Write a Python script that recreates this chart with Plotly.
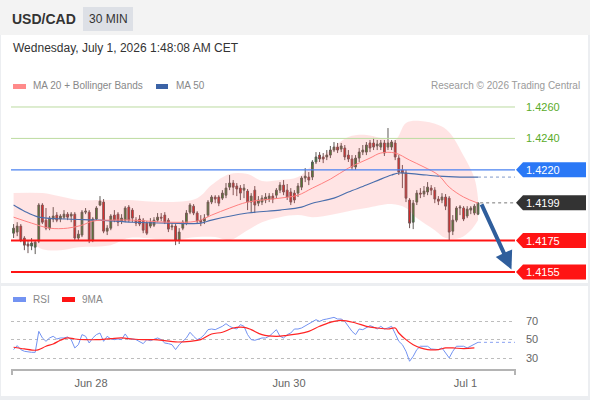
import plotly.graph_objects as go

W, H = 590, 400

# ---------------- data ----------------
bar_index = list(range(130))

open_ = [1.41797,1.41804,1.41842,1.41766,1.41728,1.41715,1.41708,1.41747,1.41976,1.41880,
         1.41829,1.41887,1.41912,1.41887,1.41899,1.41918,1.41906,1.41918,1.41766,1.41785,
         1.41931,1.41931,1.41753,1.41887,1.41976,1.41995,1.41810,1.41829,1.41912,1.41918,
         1.41874,1.41880,1.41963,1.41944,1.41880,1.41887,1.41880,1.41861,1.41842,1.41848,
         1.41880,1.41899,1.41912,1.41880,1.41836,1.41842,1.41753,1.41829,1.41861,1.41931,
         1.41969,1.41925,1.41880,1.41874,1.41912,1.41995,1.42027,1.42027,1.42020,1.42039,
         1.42090,1.42116,1.42097,1.42084,1.42071,1.42065,1.41995,1.42071,1.41988,1.41995,
         1.42008,1.42014,1.42033,1.42039,1.42071,1.42103,1.42071,1.42059,1.42052,1.42052,
         1.42090,1.42148,1.42154,1.42154,1.42250,1.42294,1.42282,1.42282,1.42294,1.42326,
         1.42345,1.42332,1.42339,1.42294,1.42269,1.42218,1.42275,1.42313,1.42313,1.42371,
         1.42371,1.42352,1.42345,1.42371,1.42345,1.42345,1.42371,1.42275,1.42199,1.42180,
         1.42008,1.41867,1.41995,1.42052,1.42046,1.42059,1.42084,1.42071,1.42014,1.42008,
         1.42027,1.42020,1.41810,1.41880,1.41957,1.41957,1.41906,1.41944,1.41925,1.41918]

high = [1.41855,1.41867,1.41855,1.41778,1.41753,1.41766,1.41753,1.41988,1.41988,1.41957,
        1.41906,1.41963,1.41931,1.41918,1.41944,1.41931,1.41931,1.41931,1.41816,1.41944,
        1.41957,1.41944,1.41899,1.41969,1.42033,1.42014,1.41848,1.41918,1.41944,1.41931,
        1.41918,1.41969,1.41976,1.41957,1.41899,1.41912,1.41893,1.41874,1.41893,1.41899,
        1.41925,1.41925,1.41931,1.41893,1.41861,1.41855,1.41829,1.41880,1.41944,1.41988,
        1.41982,1.41937,1.41912,1.41918,1.42008,1.42039,1.42039,1.42039,1.42071,1.42116,
        1.42167,1.42135,1.42116,1.42103,1.42110,1.42078,1.42052,1.42097,1.42033,1.42039,
        1.42052,1.42052,1.42052,1.42084,1.42122,1.42135,1.42110,1.42084,1.42071,1.42116,
        1.42160,1.42211,1.42186,1.42262,1.42313,1.42313,1.42307,1.42326,1.42352,1.42377,
        1.42371,1.42371,1.42358,1.42326,1.42294,1.42294,1.42339,1.42358,1.42377,1.42390,
        1.42403,1.42390,1.42390,1.42390,1.42466,1.42390,1.42390,1.42294,1.42231,1.42199,
        1.42020,1.42008,1.42071,1.42084,1.42097,1.42122,1.42103,1.42090,1.42033,1.42052,
        1.42046,1.42033,1.41912,1.41969,1.41976,1.41969,1.41969,1.41969,1.41982,1.41990]

low = [1.41766,1.41778,1.41740,1.41689,1.41670,1.41689,1.41664,1.41734,1.41855,1.41816,
       1.41816,1.41867,1.41867,1.41867,1.41887,1.41880,1.41867,1.41753,1.41753,1.41772,
       1.41918,1.41734,1.41740,1.41880,1.41969,1.41797,1.41785,1.41816,1.41867,1.41842,
       1.41855,1.41867,1.41867,1.41867,1.41842,1.41842,1.41797,1.41785,1.41829,1.41836,
       1.41867,1.41874,1.41855,1.41804,1.41816,1.41721,1.41728,1.41816,1.41848,1.41918,
       1.41912,1.41861,1.41842,1.41855,1.41899,1.41982,1.41988,1.41969,1.42008,1.42020,
       1.42071,1.42039,1.42033,1.42008,1.42020,1.41944,1.41931,1.41925,1.41969,1.41976,
       1.41988,1.41995,1.41988,1.42020,1.42052,1.42039,1.42008,1.41976,1.41988,1.42027,
       1.42071,1.42122,1.42103,1.42135,1.42237,1.42250,1.42243,1.42262,1.42275,1.42313,
       1.42307,1.42313,1.42262,1.42250,1.42199,1.42199,1.42250,1.42294,1.42294,1.42313,
       1.42326,1.42326,1.42326,1.42288,1.42326,1.42326,1.42262,1.42167,1.42084,1.41995,
       1.41829,1.41823,1.41976,1.42020,1.42027,1.42039,1.42039,1.41988,1.41976,1.41988,
       1.41944,1.41753,1.41785,1.41867,1.41912,1.41874,1.41893,1.41918,1.41912,1.41912]

close = [1.41829,1.41842,1.41753,1.41721,1.41715,1.41734,1.41740,1.41976,1.41867,1.41829,
         1.41893,1.41906,1.41880,1.41906,1.41918,1.41899,1.41918,1.41766,1.41791,1.41931,
         1.41937,1.41753,1.41887,1.41957,1.42001,1.41810,1.41829,1.41906,1.41880,1.41867,
         1.41893,1.41957,1.41880,1.41893,1.41861,1.41855,1.41816,1.41797,1.41867,1.41880,
         1.41899,1.41893,1.41867,1.41823,1.41842,1.41753,1.41804,1.41867,1.41925,1.41976,
         1.41925,1.41874,1.41867,1.41893,1.41995,1.42027,1.42014,1.41988,1.42052,1.42084,
         1.42116,1.42090,1.42078,1.42052,1.42084,1.41995,1.42033,1.41976,1.42008,1.42020,
         1.42027,1.42033,1.42014,1.42071,1.42103,1.42059,1.42027,1.41995,1.42008,1.42097,
         1.42148,1.42160,1.42135,1.42250,1.42282,1.42269,1.42269,1.42294,1.42326,1.42345,
         1.42326,1.42352,1.42282,1.42269,1.42218,1.42275,1.42313,1.42326,1.42358,1.42339,
         1.42345,1.42364,1.42371,1.42307,1.42371,1.42377,1.42282,1.42186,1.42180,1.42020,
         1.41861,1.41988,1.42052,1.42046,1.42065,1.42090,1.42071,1.42014,1.42001,1.42027,
         1.41969,1.41804,1.41880,1.41957,1.41963,1.41887,1.41950,1.41957,1.41969,1.41990]

ma20_idx = [0,5,10,15,19,22,27,33,43,51,55,60,65,74,79,83,88,93,99,102,106,110,114,118,121,125,129]
ma20 = [1.41899,1.41861,1.41829,1.41829,1.41848,1.41874,1.41880,1.41880,1.41867,1.41874,
        1.41912,1.41957,1.41995,1.42020,1.42039,1.42084,1.42141,1.42211,1.42275,1.42307,
        1.42307,1.42262,1.42218,1.42167,1.42090,1.42027,1.41988]

bb_up_idx = [0,8,18,24,32,42,51,55,60,65,69,74,79,83,88,93,98,102,106,109,113,118,121,125,128,129]
bb_up = [1.42052,1.42052,1.42008,1.42008,1.42008,1.41995,1.42020,1.42103,1.42173,1.42173,
         1.42129,1.42135,1.42154,1.42231,1.42326,1.42409,1.42422,1.42403,1.42390,1.42498,
         1.42511,1.42485,1.42440,1.42290,1.42148,1.42020]

bb_lo_idx = [0,5,8,13,18,27,32,44,51,56,60,65,69,74,79,83,89,93,98,105,109,112,117,120,124,127,129]
bb_lo = [1.41766,1.41734,1.41695,1.41689,1.41708,1.41721,1.41766,1.41753,1.41772,1.41772,
         1.41753,1.41816,1.41867,1.41899,1.41912,1.41899,1.41918,1.41937,1.41957,1.41982,
         1.41957,1.41893,1.41816,1.41766,1.41766,1.41816,1.41880]

ma50_idx = [0,3,7,15,24,33,43,52,55,65,74,80,83,89,93,98,102,105,107,112,118,124,129]
ma50 = [1.41976,1.41937,1.41899,1.41887,1.41880,1.41867,1.41861,1.41861,1.41880,1.41925,
        1.41944,1.41963,1.41988,1.42020,1.42059,1.42103,1.42141,1.42167,1.42180,1.42173,
        1.42160,1.42154,1.42154]

rsi_idx = [0,1,2,3,5,6,7,8,9,10,11,12,13,14,15,16,17,18,19,20,21,22,23,24,25,26,27,28,29,30,
           31,32,33,34,36,37,38,39,40,41,42,43,44,45,46,48,49,50,51,52,53,54,55,56,58,59,60,61,
           62,63,64,65,66,67,68,69,70,71,72,73,74,75,76,77,78,79,80,82,83,84,85,86,87,88,89,90,
           91,92,93,94,95,96,97,98,99,100,101,102,103,104,105,106,107,108,109,110,111,112,113,
           114,115,116,117,118,119,121,122,123,124,125,126,127,128,129]
rsi = [39.3,43.6,39.3,37.5,36.4,36.4,
       58.9,51.8,48.2,51.8,53.6,50.7,51.8,51.8,52.9,50.0,
       41.1,44.6,55.4,53.6,46.4,51.8,55.4,57.1,48.2,53.6,
       50.7,50.0,50.7,50.0,56.1,50.7,50.7,50.0,
       45.7,50.0,48.9,50.7,51.8,50.0,46.4,45.7,44.6,39.3,44.6,
       51.8,57.9,53.6,50.0,51.8,55.4,60.7,61.4,60.7,
       64.3,67.1,64.3,62.5,61.4,66.1,64.3,55.4,50.0,49.3,
       50.7,51.8,51.8,53.6,57.1,60.7,53.6,51.8,55.4,57.1,
       61.4,61.4,62.5,
       66.8,69.6,71.4,69.6,71.4,72.1,73.2,73.9,72.1,72.1,
       69.6,64.3,58.9,55.4,61.4,60.7,63.2,65.0,63.6,61.4,
       64.3,61.4,62.5,64.3,56.4,48.2,44.6,37.5,26.8,32.1,
       39.3,42.9,42.9,42.9,40.0,39.3,39.3,41.1,
       30.4,37.5,42.9,42.9,42.9,41.1,42.9,44.6,47.1]

ma9_idx = [0,3,6,7,9,11,13,15,17,20,23,27,30,33,36,39,42,45,49,52,55,58,61,64,66,69,73,76,79,82,
           85,88,91,95,98,101,104,106,107,109,111,113,115,118,120,122,125,128]
ma9 = [41.8,40.0,38.6,39.3,42.9,45.4,49.3,51.8,50.7,50.0,50.0,51.1,51.8,50.7,50.0,50.0,48.9,47.5,
       48.2,50.0,56.1,57.9,62.5,63.2,60.7,55.4,53.6,54.6,56.1,58.9,64.3,68.6,70.7,67.9,64.3,62.5,
       61.4,62.5,57.1,50.0,44.6,41.1,39.3,39.3,41.1,41.1,40.4,41.1]

level_values = [1.4260, 1.4240, 1.4220, 1.4175, 1.4155]
level_line_colors = ["#bcdba0", "#bcdba0", "#4a82f0", "#ff1414", "#ff1414"]
level_line_widths = [1, 1, 1.3, 2, 2]
level_tag_fills = [None, None, "#2a78f6", "#ff1414", "#ff1414"]
level_text_colors = ["#5aab2a", "#5aab2a", "#ffffff", "#ffffff", "#ffffff"]

rsi_levels = [30, 50, 70]
tick_idx = [21.5, 76.5, 125.5]
tick_text = ["Jun 28", "Jun 30", "Jul 1"]

# ---------------- geometry ----------------
def px(x):
    return x / W

def py(y):
    return 1 - y / H

X_L, X_R = 11, 515
XR = [-0.72, 139.28]
P_RANGE = [1.414864, 1.426763]
P_TOP, P_BOT = 95, 282
R_TOP, R_BOT = 310, 369
R_RANGE = [18.5, 81.8]
price_per_px = (P_RANGE[1] - P_RANGE[0]) / (P_BOT - P_TOP)

FONT = "Liberation Sans, Arial, sans-serif"

fig = go.Figure()

# Bollinger band fill
fig.add_trace(go.Scatter(x=bb_up_idx, y=bb_up, mode="lines", line=dict(width=0, shape="spline", color="rgba(0,0,0,0)"),
                         hoverinfo="skip", showlegend=False, xaxis="x", yaxis="y"))
fig.add_trace(go.Scatter(x=bb_lo_idx, y=bb_lo, mode="lines", line=dict(width=0, shape="spline", color="rgba(0,0,0,0)"),
                         fill="tonexty", fillcolor="rgba(255,90,90,0.16)",
                         hoverinfo="skip", showlegend=False, xaxis="x", yaxis="y"))
# MA 50
fig.add_trace(go.Scatter(x=ma50_idx, y=ma50, mode="lines", line=dict(width=1.1, shape="spline", color="#4a6eac"),
                         showlegend=False, xaxis="x", yaxis="y"))
# MA 20
fig.add_trace(go.Scatter(x=ma20_idx, y=ma20, mode="lines", line=dict(width=1, shape="spline", color="#ff8080"),
                         showlegend=False, xaxis="x", yaxis="y"))
# candles
fig.add_trace(go.Candlestick(x=bar_index, open=open_, high=high, low=low, close=close,
                             increasing=dict(fillcolor="#2a8a2a", line=dict(color="#5e5a56", width=1)),
                             decreasing=dict(fillcolor="#ee1c1c", line=dict(color="#6e5656", width=1)),
                             whiskerwidth=0, showlegend=False, xaxis="x", yaxis="y"))

# RSI panel
fig.add_trace(go.Scatter(x=rsi_idx, y=rsi, mode="lines", line=dict(width=1, color="#7393f2"),
                         showlegend=False, xaxis="x2", yaxis="y2"))
fig.add_trace(go.Scatter(x=ma9_idx, y=ma9, mode="lines", line=dict(width=1.2, shape="spline", color="#ff2424"),
                         showlegend=False, xaxis="x2", yaxis="y2"))

shapes = []
# backgrounds
shapes.append(dict(type="rect", xref="paper", yref="paper", x0=0, x1=1, y0=py(35), y1=1,
                   fillcolor="#f3f3f3", line=dict(width=0), layer="below"))
shapes.append(dict(type="rect", xref="paper", yref="paper", x0=px(1), x1=px(588), y0=py(283), y1=py(35),
                   fillcolor="#ffffff", line=dict(width=0), layer="below"))
shapes.append(dict(type="rect", xref="paper", yref="paper", x0=px(1), x1=px(588), y0=py(396), y1=py(286),
                   fillcolor="#ffffff", line=dict(width=0), layer="below"))

# level lines and tags
hh = 7.5 * price_per_px
annotations = []
for v, lc, lw, tf, tc in zip(level_values, level_line_colors, level_line_widths, level_tag_fills, level_text_colors):
    shapes.append(dict(type="line", xref="paper", yref="y", x0=px(X_L), x1=px(X_R), y0=v, y1=v,
                       line=dict(color=lc, width=lw), layer="above"))
    if tf:
        shapes.append(dict(type="path", xref="paper", yref="y",
                           path=f"M {px(516)},{v} L {px(523)},{v+hh} L {px(586)},{v+hh} L {px(586)},{v-hh} L {px(523)},{v-hh} Z",
                           fillcolor=tf, line=dict(width=0)))
    annotations.append(dict(xref="paper", yref="y", x=px(524), y=v, text=f"{v:.4f}", showarrow=False,
                            xanchor="left", yanchor="middle", font=dict(size=11, color=tc, family=FONT)))

# current price tag + dotted extension
last_x = bar_index[-1]
cur = close[-1]
shapes.append(dict(type="line", xref="x", yref="y", x0=last_x + 0.6, x1=XR[1], y0=cur, y1=cur,
                   line=dict(color="#777777", width=1, dash="dot")))
shapes.append(dict(type="path", xref="paper", yref="y",
                   path=f"M {px(516)},{cur} L {px(523)},{cur+hh} L {px(586)},{cur+hh} L {px(586)},{cur-hh} L {px(523)},{cur-hh} Z",
                   fillcolor="#333333", line=dict(width=0)))
annotations.append(dict(xref="paper", yref="y", x=px(524), y=cur, text=f"{cur:.4f}", showarrow=False,
                        xanchor="left", yanchor="middle", font=dict(size=11, color="#ffffff", family=FONT)))
# MA50 dotted extension
shapes.append(dict(type="line", xref="x", yref="y", x0=ma50_idx[-1], x1=XR[1], y0=ma50[-1], y1=ma50[-1],
                   line=dict(color="#8099c8", width=1, dash="dot")))
# RSI dotted extension
shapes.append(dict(type="line", xref="x2", yref="y2", x0=rsi_idx[-1], x1=XR[1], y0=rsi[-1], y1=rsi[-1],
                   line=dict(color="#8aa2f2", width=1, dash="dot")))

# bottom axis end ticks
for xp in (X_L + 1, X_R):
    shapes.append(dict(type="line", xref="paper", yref="paper", x0=px(xp), x1=px(xp), y0=py(R_BOT), y1=py(R_BOT + 6),
                       line=dict(color="#b4b4b4", width=2)))

# forecast arrow
annotations.append(dict(xref="x", yref="y", axref="x", ayref="y",
                        x=138.3, y=level_values[-1] + 2.5 * price_per_px,
                        ax=last_x + 0.8, ay=cur,
                        showarrow=True, arrowhead=2, arrowsize=0.9, arrowwidth=4, arrowcolor="#2f5e9c", text=""))

# legends / header texts
def txt(x, y, s, size, color, anchor="left", bold=False):
    annotations.append(dict(xref="paper", yref="paper", x=px(x), y=py(y), text=(f"<b>{s}</b>" if bold else s),
                            showarrow=False, xanchor=anchor, yanchor="middle",
                            font=dict(size=size, color=color, family=FONT)))

shapes.append(dict(type="rect", xref="paper", yref="paper", x0=px(83), x1=px(133), y0=py(31), y1=py(7),
                   fillcolor="#dde0e6", line=dict(width=0)))
txt(10, 19, "USD/CAD", 14, "#333333", bold=True)
txt(108, 19, "30 MIN", 12, "#333333", anchor="center")
txt(11, 48, "Wednesday, July 1, 2026 1:48:08 AM CET", 12, "#333333")

shapes.append(dict(type="rect", xref="paper", yref="paper", x0=px(13), x1=px(26), y0=py(89), y1=py(84),
                   fillcolor="#ff8a8a", line=dict(width=0)))
txt(31, 86, "MA 20 + Bollinger Bands", 10, "#888888")
shapes.append(dict(type="rect", xref="paper", yref="paper", x0=px(156), x1=px(168), y0=py(89), y1=py(84),
                   fillcolor="#3b63a6", line=dict(width=0)))
txt(174, 86, "MA 50", 10, "#888888")
txt(582, 86, "Research © 2026 Trading Central", 10, "#9a9a9a", anchor="right")

shapes.append(dict(type="rect", xref="paper", yref="paper", x0=px(13), x1=px(26), y0=py(302), y1=py(297),
                   fillcolor="#7393f2", line=dict(width=0)))
txt(31, 299, "RSI", 10, "#888888")
shapes.append(dict(type="rect", xref="paper", yref="paper", x0=px(62), x1=px(75), y0=py(302), y1=py(297),
                   fillcolor="#ff1414", line=dict(width=0)))
txt(80, 299, "9MA", 10, "#888888")

fig.update_layout(
    width=W, height=H, autosize=False,
    margin=dict(l=0, r=0, t=0, b=0),
    paper_bgcolor="#eceef1", plot_bgcolor="rgba(0,0,0,0)",
    font=dict(family=FONT),
    showlegend=False,
    shapes=shapes, annotations=annotations,
    xaxis=dict(domain=[px(X_L), px(X_R)], range=XR, visible=False, rangeslider=dict(visible=False),
               anchor="y", fixedrange=True),
    yaxis=dict(domain=[py(P_BOT), py(P_TOP)], range=P_RANGE, visible=False, anchor="x"),
    xaxis2=dict(domain=[px(X_L), px(X_R)], range=XR, matches="x", anchor="y2",
                showline=True, linecolor="#b4b4b4", linewidth=2, showgrid=False, zeroline=False,
                tickmode="array", tickvals=tick_idx, ticktext=tick_text, ticks="",
                ticklabelstandoff=3,
                tickfont=dict(size=11, color="#666666", family=FONT)),
    yaxis2=dict(domain=[py(R_BOT), py(R_TOP)], range=R_RANGE, anchor="x2", side="right",
                tickmode="array", tickvals=rsi_levels, ticks="", showline=False, zeroline=False,
                showgrid=True, gridcolor="#bdbdbd", gridwidth=1, griddash="dot",
                ticklabelstandoff=10, tickfont=dict(size=11, color="#666666", family=FONT)),
)

fig.write_html("out.html", config={"displayModeBar": False},
               post_script="document.body.style.margin='0';document.body.style.padding='0';")
